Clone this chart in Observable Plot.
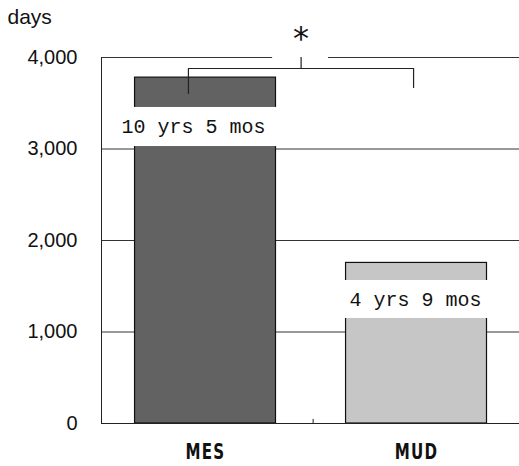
<!DOCTYPE html>
<html><head><meta charset="utf-8">
<script src="https://cdn.jsdelivr.net/npm/d3@7"></script>
<script src="https://cdn.jsdelivr.net/npm/@observablehq/plot@0.6"></script>
<style>body{margin:0;background:#fff}</style>
</head><body><div id="chart"></div>
<script>
// ---- data ----
const groups = ["MES", "MUD"];
const days = [3780, 1755];
const durationLabels = ["10 yrs 5 mos", "4 yrs 9 mos"];
const yTicks = [0, 1000, 2000, 3000, 4000];
const yLabel = "days";
const significance = "*";

const data = groups.map((g, i) => ({group: g, i, days: days[i], label: durationLabels[i]}));

// ---- annotation layout (data units) ----
const half = 0.334;
const labelBands = [[3027, 3454], [1148, 1563]];
const labelX = [-0.057, 0.995];
const bracket = {left: -0.081, right: 0.986, top: 3880, leftEnd: 3607, rightEnd: 3672, mid: 0.453};

const chart = Plot.plot({
  width: 519, height: 466,
  marginLeft: 101, marginRight: 0, marginTop: 57, marginBottom: 43,
  style: {fontFamily: "'Liberation Sans', Arial, sans-serif", color: "#111", background: "#fff"},
  x: {type: "linear", domain: [-0.493, 1.488]},
  y: {domain: [0, 4000]},
  color: {domain: groups, range: ["#626262", "#c6c6c6"]},
  marks: [
    Plot.ruleY(yTicks.slice(1), {stroke: "#333", strokeWidth: 1}),
    Plot.rect([0], {x1: 0.318, x2: 0.583, y1: 3950, y2: 4060, fill: "white"}),
    Plot.rect(data, {x1: d => d.i - half, x2: d => d.i + half, y1: 0, y2: "days", fill: "group", stroke: "#111", strokeWidth: 1.2}),
    Plot.rect(data, {x1: d => d.i - half - 0.012, x2: d => d.i + half + 0.012, y1: d => labelBands[d.i][0], y2: d => labelBands[d.i][1], fill: "white"}),
    Plot.text(data, {x: d => labelX[d.i], y: d => (labelBands[d.i][0] + labelBands[d.i][1]) / 2, text: "label", fontFamily: "'Liberation Mono', 'DejaVu Sans Mono', monospace", fontSize: 20, fill: "#111"}),
    Plot.line([[bracket.left, bracket.leftEnd], [bracket.left, bracket.top], [bracket.right, bracket.top], [bracket.right, bracket.rightEnd]], {stroke: "#222", strokeWidth: 1.2}),
    Plot.ruleX([bracket.mid], {y1: bracket.top, y2: 4000, stroke: "#222", strokeWidth: 1.2}),
    Plot.text([significance], {x: bracket.mid, y: 4273, dy: 6, text: d => d, fontSize: 32, fontFamily: "'DejaVu Sans', sans-serif", fill: "#111"}),
    Plot.ruleX([-0.493], {y1: 0, y2: 4000, stroke: "#222"}),
    Plot.ruleY([0], {stroke: "#222"}),
    Plot.ruleX([0.51], {y1: 0, y2: 45, stroke: "#222"}),
    Plot.axisY({ticks: yTicks, tickFormat: d3.format(","), tickSize: 0, tickPadding: 24, fontSize: 20, label: null}),
    Plot.axisX({ticks: [0, 1], tickFormat: i => groups[i], tickSize: 0, tickPadding: 21, fontSize: 21, fontWeight: "bold", fontFamily: "'DejaVu Sans Condensed', 'DejaVu Sans', sans-serif", label: null}),
    Plot.text([yLabel], {frameAnchor: "top-left", text: d => d, dx: -94, dy: -40, fontSize: 21, textAnchor: "start", lineAnchor: "middle", fill: "#111"})
  ]
});
d3.select(chart).selectAll('g[aria-label="x-axis tick label"] text')
  .attr("letter-spacing", 1.5)
  .attr("font-stretch", "condensed")
  .attr("transform", function() { return (this.getAttribute("transform") || "") + " scale(0.8,1)"; });
document.getElementById("chart").appendChild(chart);
</script>
</body></html>
